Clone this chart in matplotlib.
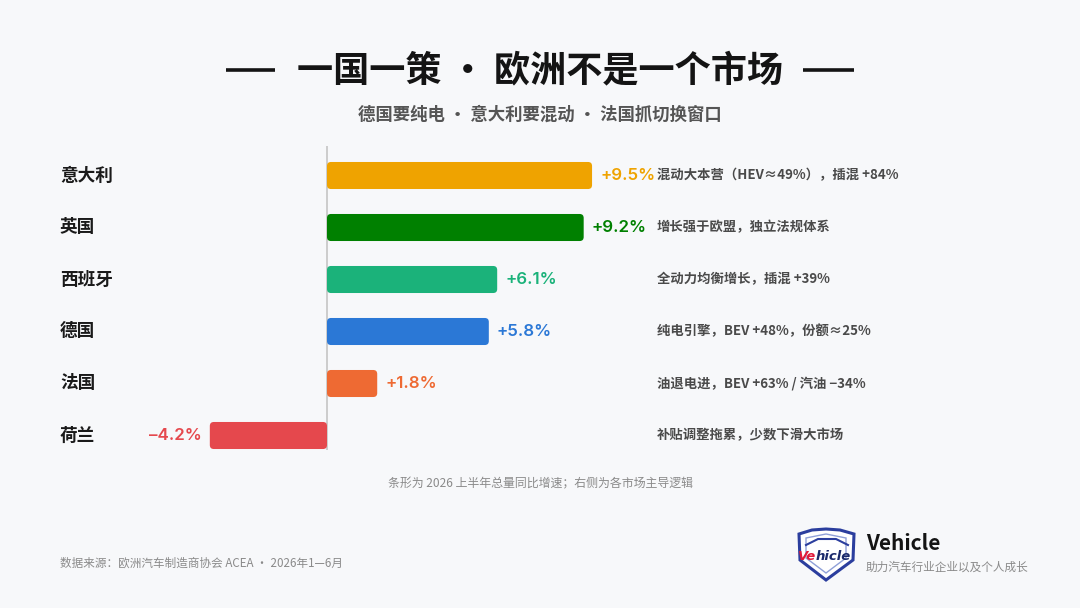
import matplotlib
matplotlib.use('Agg')
import matplotlib.pyplot as plt
from matplotlib.patches import FancyBboxPatch, Polygon
from matplotlib.transforms import blended_transform_factory
from matplotlib.lines import Line2D

plt.rcParams['font.family'] = ['Noto Sans CJK SC', 'DejaVu Sans']

# ---------------- data ----------------
countries = ['意大利', '英国', '西班牙', '德国', '法国', '荷兰']
growth = [9.5, 9.2, 6.1, 5.8, 1.8, -4.2]
value_labels = ['+9.5%', '+9.2%', '+6.1%', '+5.8%', '+1.8%', '–4.2%']
notes = ['混动大本营（HEV≈49%），插混 +84%',
         '增长强于欧盟，独立法规体系',
         '全动力均衡增长，插混 +39%',
         '纯电引擎，BEV +48%，份额≈25%',
         '油退电进，BEV +63% / 汽油 −34%',
         '补贴调整拖累，少数下滑大市场']
colors = ['#EFA300', '#008000', '#1BB27A', '#2B78D6', '#EE6A33', '#E5484D']

title = '一国一策 · 欧洲不是一个市场'
subtitle = '德国要纯电 · 意大利要混动 · 法国抓切换窗口'
footnote = '条形为 2026 上半年总量同比增速；右侧为各市场主导逻辑'
source = '数据来源：欧洲汽车制造商协会 ACEA · 2026年1—6月'
brand = 'Vehicle'
brand_sub = '助力汽车行业企业以及个人成长'

# ---------------- layout ----------------
W, H = 1080, 608
fig = plt.figure(figsize=(W / 100, H / 100), dpi=100)
fig.patch.set_facecolor('#F7F8FA')

ax_left, ax_right, ax_top, ax_bot = 60, 1040, 140, 466
ax = fig.add_axes([ax_left / W, 1 - ax_bot / H, (ax_right - ax_left) / W, (ax_bot - ax_top) / H])
ax.set_facecolor('none')
ppu = 27.9
zero_px = 327
first_row, row_px = 175.5, 52
ax.set_xlim((ax_left - zero_px) / ppu, (ax_right - zero_px) / ppu)
ax.set_ylim((ax_bot - first_row) / row_px, (ax_top - first_row) / row_px)
ax.axis('off')

# zero line
ax.plot([0, 0], [(146 - first_row) / row_px, (450 - first_row) / row_px],
        color='#C9C9C9', lw=1.3, zorder=1, solid_capstyle='butt')

bar_h = 0.52
r_px = 4.0
rx = r_px / ppu
ry = r_px / row_px
for i, (v, c, lab) in enumerate(zip(growth, colors, value_labels)):
    x0 = min(0, v)
    p = FancyBboxPatch((x0, i - bar_h / 2), abs(v), bar_h,
                       boxstyle=f'round,pad=0,rounding_size={rx}',
                       mutation_aspect=ry / rx, fc=c, ec='none', zorder=2)
    ax.add_patch(p)
    off = 8 / ppu
    kw = dict(va='center', color=c, fontsize=12.2, fontweight='semibold',
              family=['Inter', 'DejaVu Sans'])
    if v >= 0:
        ax.text(v + off, i, lab, ha='left', **kw)
    else:
        ax.text(v - off, i, lab, ha='right', **kw)

tr = blended_transform_factory(fig.transFigure, ax.transData)
for i, (name, note) in enumerate(zip(countries, notes)):
    ax.text(60 / W, i, name, transform=tr, ha='left', va='center',
            fontsize=12.7, fontweight='bold', color='#1A1A1A')
    ax.text(657 / W, i, note, transform=tr, ha='left', va='center',
            fontsize=9.6, fontweight='bold', color='#4A4A4A')

# ---------------- titles ----------------
fig.text(540 / W, 1 - 71 / H, title, ha='center', va='center',
         fontsize=26, fontweight='bold', color='#141414')
for x0, x1 in [(226, 275), (803, 854)]:
    fig.add_artist(Line2D([x0 / W, x1 / W], [1 - 70 / H, 1 - 70 / H],
                          color='#141414', lw=2.6, solid_capstyle='butt'))
fig.text(540 / W, 1 - 115 / H, subtitle, ha='center', va='center',
         fontsize=12.5, fontweight='bold', color='#555555')

fig.text(540 / W, 1 - 484 / H, footnote, ha='center', va='center',
         fontsize=8.6, color='#8A8A8A')
fig.text(60 / W, 1 - 563 / H, source, ha='left', va='center',
         fontsize=8.35, color='#8A8A8A')

# ---------------- logo ----------------
lax = fig.add_axes([0, 0, 1, 1])
lax.set_xlim(0, W)
lax.set_ylim(H, 0)
lax.axis('off')
lax.set_facecolor('none')
shield = Polygon([(799, 534), (812, 530), (826, 529), (840, 530), (854, 534),
                  (853, 560), (826, 580), (800, 560)],
                 closed=True, fc='white', ec='#2B3E9E', lw=2.2, zorder=1)
lax.add_patch(shield)
inner = Polygon([(806, 538), (826, 534), (846, 538), (846, 558), (826, 573), (806, 558)],
                closed=True, fc='none', ec='#8FA0D8', lw=1.0, zorder=1)
lax.add_patch(inner)
lax.plot([806, 818, 836, 848], [545, 539, 539, 545], color='#2B3E9E', lw=1.5, zorder=2)
lax.text(798, 556, 'Ve', ha='left', va='center', fontsize=9.5, fontweight='bold',
         fontstyle='italic', color='#E0193A', family='DejaVu Sans', zorder=3)
lax.text(816, 556, 'hicle', ha='left', va='center', fontsize=9.5, fontweight='bold',
         fontstyle='italic', color='#1B2A6B', family='DejaVu Sans', zorder=3)

fig.text(866 / W, 1 - 544 / H, brand, ha='left', va='center',
         fontsize=15, fontweight='bold', color='#141414')
fig.text(866 / W, 1 - 567 / H, brand_sub, ha='left', va='center',
         fontsize=8.4, color='#8A8A8A')

fig.savefig('out.png', dpi=100, facecolor=fig.get_facecolor())
